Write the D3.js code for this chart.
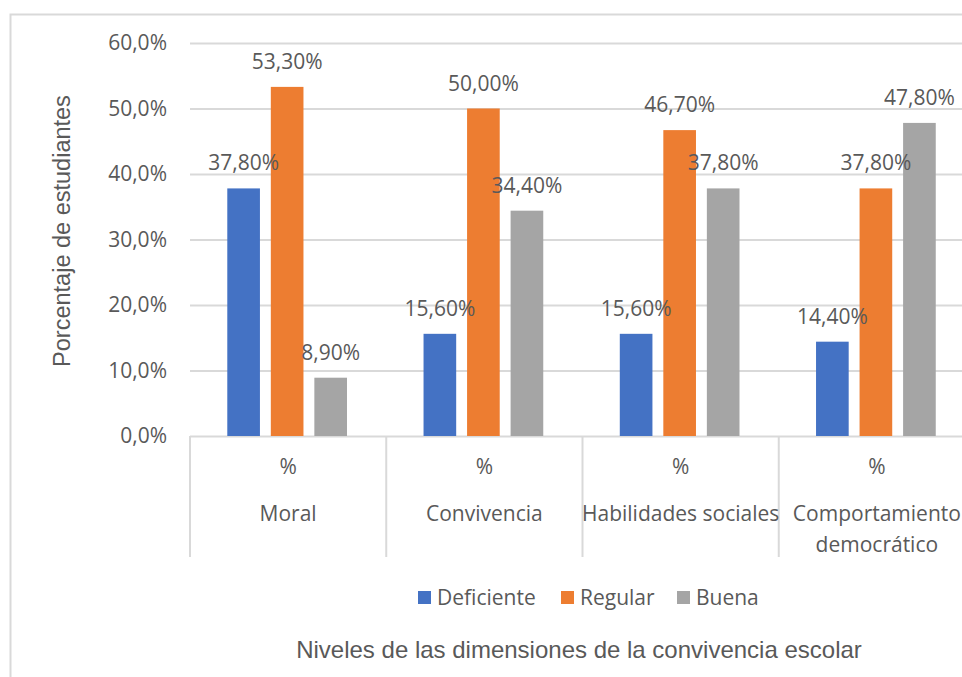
<!DOCTYPE html>
<html>
<head>
<meta charset="utf-8">
<script src="https://cdn.jsdelivr.net/npm/d3@7"></script>
<style>
  html, body { margin: 0; padding: 0; background: #fff; }
  svg { display: block; }
</style>
</head>
<body>
<svg id="chart" width="962" height="677"></svg>
<script>
const categories = ["Moral", "Convivencia", "Habilidades sociales", "Comportamiento democrático"];
const categoryLines = [["Moral"], ["Convivencia"], ["Habilidades sociales"], ["Comportamiento", "democrático"]];
const subLabel = "%";
const seriesNames = ["Deficiente", "Regular", "Buena"];
const deficiente = [37.8, 15.6, 15.6, 14.4];
const regular = [53.3, 50.0, 46.7, 37.8];
const buena = [8.9, 34.4, 37.8, 47.8];
const seriesColors = ["#4472c4", "#ed7d31", "#a5a5a5"];
const yTicks = [0, 10, 20, 30, 40, 50, 60];
const yTitle = "Porcentaje de estudiantes";
const xTitle = "Niveles de las dimensiones de la convivencia escolar";

const seriesValues = [deficiente, regular, buena];
const svg = d3.select("#chart");
const textColor = "#595959";
const gridColor = "#d9d9d9";
const labelFont = "'Open Sans', 'Segoe UI', sans-serif";
const titleFont = "'Liberation Sans', Arial, sans-serif";
const fs = "21px";

// frame
svg.append("rect").attr("x", 10.5).attr("y", 14.5).attr("width", 1000).attr("height", 700)
  .attr("fill", "none").attr("stroke", gridColor).attr("stroke-width", 2);

const y = d3.scaleLinear().domain([0, 60]).range([436, 43]);
const x = d3.scaleBand().domain(categories).range([190, 975]).padding(0);
const xi = d3.scaleBand().domain(seriesNames)
  .range([x.bandwidth() * 0.19, x.bandwidth() * 0.80]).paddingInner(0.25).paddingOuter(0);

// gridlines
const yAxis = d3.axisLeft(y).tickValues(yTicks).tickSize(-(975 - 190))
  .tickFormat(d => d3.format(".1f")(d).replace(".", ",") + "%");
const gY = svg.append("g").attr("transform", "translate(190,0)").call(yAxis);
gY.select(".domain").remove();
gY.selectAll(".tick line").attr("stroke", gridColor).attr("stroke-width", 2);
gY.selectAll(".tick text").attr("x", -23).attr("fill", textColor)
  .style("font-family", labelFont).style("font-size", fs);

// category separators
const seps = categories.map(c => x(c)).concat([x.range()[1]]);
svg.append("g").selectAll("line").data(seps).join("line")
  .attr("x1", d => d).attr("x2", d => d).attr("y1", y(0)).attr("y2", 557)
  .attr("stroke", gridColor).attr("stroke-width", 2);

// bars
const groups = svg.append("g").selectAll("g").data(categories).join("g")
  .attr("transform", c => `translate(${x(c)},0)`);
seriesNames.forEach((s, si) => {
  groups.append("rect")
    .attr("x", xi(s)).attr("width", xi.bandwidth())
    .attr("y", (c, ci) => y(seriesValues[si][ci]))
    .attr("height", (c, ci) => y(0) - y(seriesValues[si][ci]))
    .attr("fill", seriesColors[si]);
});
// data labels
seriesNames.forEach((s, si) => {
  groups.append("text")
    .attr("x", xi(s) + xi.bandwidth() / 2)
    .attr("y", (c, ci) => y(seriesValues[si][ci]) - 18)
    .attr("text-anchor", "middle")
    .attr("fill", textColor)
    .style("font-family", labelFont).style("font-size", fs)
    .text((c, ci) => d3.format(".2f")(seriesValues[si][ci]).replace(".", ",") + "%");
});

// category labels
groups.append("text").attr("x", x.bandwidth() / 2).attr("y", 474)
  .attr("text-anchor", "middle").attr("fill", textColor)
  .style("font-family", labelFont).style("font-size", fs).text(subLabel);
groups.each(function(c, ci) {
  const t = d3.select(this).append("text").attr("text-anchor", "middle").attr("fill", textColor)
    .style("font-family", labelFont).style("font-size", fs);
  categoryLines[ci].forEach((line, li) => {
    t.append("tspan").attr("x", x.bandwidth() / 2).attr("y", 521 + li * 31).text(line);
  });
});

// legend
const legendX = [418, 561, 677];
const lg = svg.append("g").selectAll("g").data(seriesNames).join("g")
  .attr("transform", (d, i) => `translate(${legendX[i]},591)`);
lg.append("rect").attr("width", 13).attr("height", 13).attr("fill", (d, i) => seriesColors[i]);
lg.append("text").attr("x", 19).attr("y", 14).attr("fill", textColor)
  .style("font-family", labelFont).style("font-size", fs).text(d => d);

// axis titles
svg.append("text").attr("transform", "translate(70,231) rotate(-90)")
  .attr("text-anchor", "middle").attr("fill", textColor)
  .style("font-family", titleFont).style("font-size", "23.5px").text(yTitle);
svg.append("text").attr("x", 579).attr("y", 658)
  .attr("text-anchor", "middle").attr("fill", textColor)
  .style("font-family", titleFont).style("font-size", "24px").text(xTitle);
</script>
</body>
</html>
